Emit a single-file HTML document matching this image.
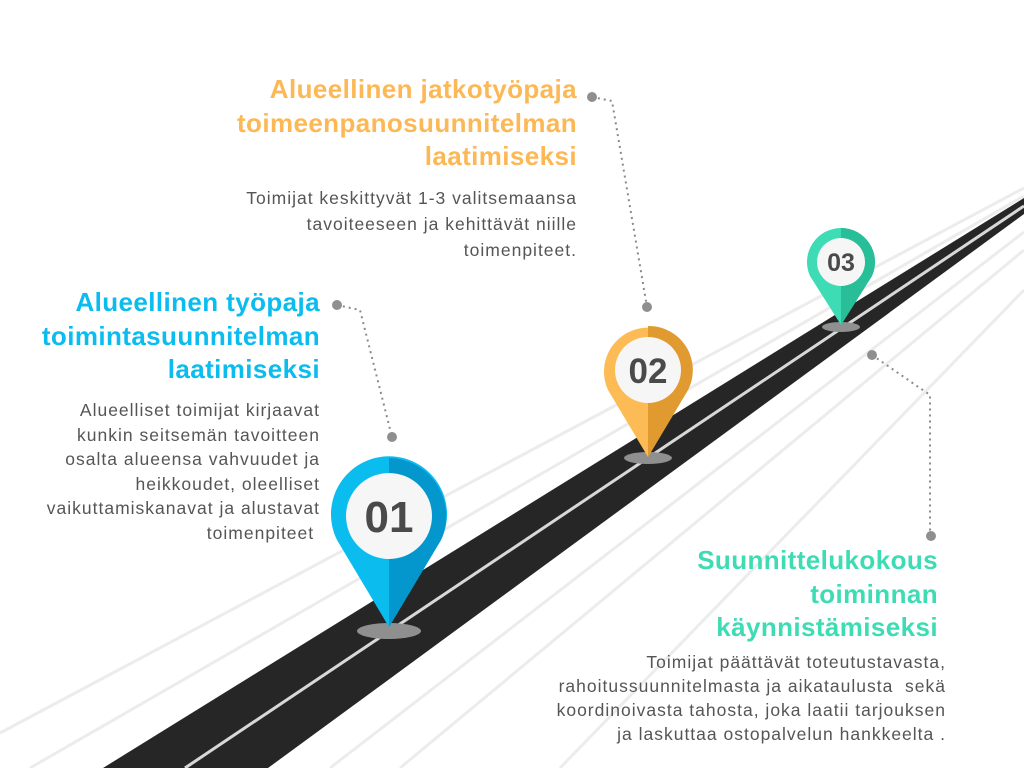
<!DOCTYPE html>
<html><head><meta charset="utf-8"><style>
body{margin:0;width:1024px;height:768px;overflow:hidden;background:#fff;position:relative;font-family:"Liberation Sans",sans-serif}
svg{position:absolute;left:0;top:0}
.h{position:absolute;text-align:right;font-weight:bold;font-size:26px;letter-spacing:0.4px;line-height:33.5px;white-space:nowrap}
.b{position:absolute;text-align:right;font-size:17.5px;letter-spacing:1px;color:#555;white-space:nowrap}
</style></head><body>
<svg width="1024" height="768" viewBox="0 0 1024 768">
<g stroke="#ececec" stroke-width="3" fill="none">
<line x1="0" y1="733" x2="1024" y2="188"/>
<line x1="30" y1="768" x2="1024" y2="196"/>
<line x1="330" y1="768" x2="1024" y2="232"/>
<line x1="400" y1="768" x2="1024" y2="250"/>
<line x1="560" y1="768" x2="1024" y2="290"/>
</g>
<polygon points="103,768 268,768 1024,214 1024,198" fill="#262626"/>
<line x1="185" y1="768" x2="1024" y2="206" stroke="#d8d8d8" stroke-width="3"/>
<g stroke="#8a8a8a" stroke-width="2" stroke-dasharray="2 4" fill="none">
<polyline points="592,97 612,101 647,307"/>
<polyline points="337,305 360,310 392,437"/>
<polyline points="872,355 930,395 930,535"/>
</g>
<g fill="#8f8f8f">
<circle cx="592" cy="97" r="5"/><circle cx="647" cy="307" r="5"/>
<circle cx="337" cy="305" r="5"/><circle cx="392" cy="437" r="5"/>
<circle cx="872" cy="355" r="5"/><circle cx="931" cy="536" r="5"/>
<ellipse cx="389" cy="631" rx="32" ry="8"/>
<ellipse cx="648" cy="458" rx="24" ry="6"/>
<ellipse cx="841" cy="327" rx="19" ry="5"/>
</g>
<path d="M389,627 L337,540 A58,58 0 1 1 441,540 Z" fill="#0bbcef"/>
<path d="M389,627 L441,540 A58,58 0 0 0 389,458 Z" fill="#0397cd"/>
<circle cx="389" cy="516" r="43" fill="#f6f6f6"/>
<path d="M648,457 L608,390 A44,44 0 1 1 688,390 Z" fill="#fcbb55"/>
<path d="M648,457 L688,390 A44,44 0 0 0 648,326 Z" fill="#e09a30"/>
<circle cx="648" cy="370" r="33" fill="#f6f6f6"/>
<path d="M841,325 L810,276 A34,34 0 1 1 872,276 Z" fill="#3ddcb4"/>
<path d="M841,325 L872,276 A34,34 0 0 0 841,228 Z" fill="#28bf98"/>
<circle cx="841" cy="262" r="24" fill="#f6f6f6"/>
<g font-family="Liberation Sans,sans-serif" font-weight="bold" fill="#4a4a4a" text-anchor="middle">
<text x="389" y="532" font-size="44">01</text>
<text x="648" y="383" font-size="35">02</text>
<text x="841" y="271" font-size="25">03</text>
</g>
</svg>
<div class="h" style="right:447px;top:73px;color:#fdb856">Alueellinen jatkotyöpaja<br>toimeenpanosuunnitelman<br>laatimiseksi</div>
<div class="b" style="right:447px;top:185px;line-height:26px">Toimijat keskittyvät 1-3 valitsemaansa<br>tavoiteeseen ja kehittävät niille<br>toimenpiteet.</div>
<div class="h" style="right:704px;top:286px;color:#0bbcef">Alueellinen työpaja<br>toimintasuunnitelman<br>laatimiseksi</div>
<div class="b" style="right:704px;top:398px;line-height:24.5px">Alueelliset toimijat kirjaavat<br>kunkin seitsemän tavoitteen<br>osalta alueensa vahvuudet ja<br>heikkoudet, oleelliset<br>vaikuttamiskanavat ja alustavat<br>toimenpiteet&nbsp;</div>
<div class="h" style="right:86px;top:544px;color:#3ddcb4">Suunnittelukokous<br>toiminnan<br>käynnistämiseksi</div>
<div class="b" style="right:78px;top:650px;line-height:24px">Toimijat päättävät toteutustavasta,<br>rahoitussuunnitelmasta ja aikataulusta&nbsp; sekä<br>koordinoivasta tahosta, joka laatii tarjouksen<br>ja laskuttaa ostopalvelun hankkeelta .</div>
</body></html>
